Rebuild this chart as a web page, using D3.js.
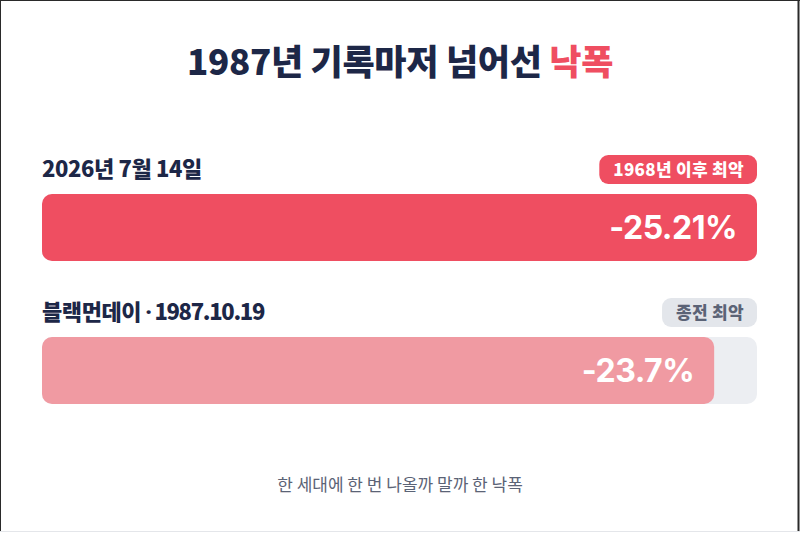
<!DOCTYPE html>
<html><head><meta charset="utf-8">
<script src="https://cdn.jsdelivr.net/npm/d3@7"></script>
<style>
html,body{margin:0;padding:0;background:#fff;}
svg{display:block;font-family:"Noto Sans CJK KR","Noto Sans",sans-serif;}
</style></head>
<body>
<svg id="c" width="800" height="533"></svg>
<script>
const titleMain = "1987년 기록마저 넘어선 ";
const titleAccent = "낙폭";
const labelsA = ["2026년 7월 14일", "블랙먼데이"];
const labelsB = ["", "1987.10.19"];
const values = [25.21, 23.7];
const valueLabels = ["-25.21%", "-23.7%"];
const badges = ["1968년 이후 최악", "종전 최악"];
const footer = "한 세대에 한 번 나올까 말까 한 낙폭";

const navy = "#1d2747", red = "#ef4e61", pink = "#f09aa2", track = "#eceef2",
      grayBadge = "#e3e6eb", grayText = "#5b6376";

const svg = d3.select("#c");
const W = 800, H = 533, L = 42, R = 757;

// frame
svg.append("rect").attr("x",0).attr("y",0).attr("width",W).attr("height",H).attr("fill","#fff");
svg.append("line").attr("x1",0).attr("x2",W).attr("y1",0.5).attr("y2",0.5).attr("stroke","#2a2a2a");
svg.append("line").attr("x1",0.5).attr("x2",0.5).attr("y1",0).attr("y2",531).attr("stroke","#2a2a2a");
svg.append("line").attr("x1",798.5).attr("x2",798.5).attr("y1",0).attr("y2",531).attr("stroke","#2a2a2a").attr("stroke-width",2);
svg.append("line").attr("x1",0).attr("x2",W).attr("y1",531.5).attr("y2",531.5).attr("stroke","#e4e6ea");

// title
const t = svg.append("text").attr("x",W/2).attr("y",75).attr("text-anchor","middle")
  .attr("font-size",35).attr("font-weight",900).attr("fill",navy).attr("letter-spacing",-0.3);
t.append("tspan").text(titleMain);
t.append("tspan").attr("fill",red).text(titleAccent);

const x = d3.scaleLinear().domain([0, d3.max(values)]).range([L, R]);
const y = d3.scaleBand().domain(d3.range(values.length)).range([194, 194+143*2]).paddingInner(0);
const barH = 67;

const g = svg.selectAll("g.row").data(values).join("g").attr("class","row")
  .attr("transform",(d,i)=>`translate(0,${y(i)})`);

g.append("rect").attr("x",L).attr("y",0).attr("width",R-L).attr("height",barH)
  .attr("rx",10).attr("fill",track);
g.append("rect").attr("x",L).attr("y",0).attr("width",d=>x(d)-L).attr("height",barH)
  .attr("rx",10).attr("fill",(d,i)=>i===0?red:pink);
g.append("text").attr("x",d=>x(d)-20).attr("y",barH/2+11).attr("text-anchor","end")
  .attr("font-size",32).attr("font-weight",700).attr("fill","#fff")
  .attr("font-family","Inter,'Noto Sans',sans-serif").attr("letter-spacing",-0.5)
  .text((d,i)=>valueLabels[i]);

g.each(function(d,i){
  const lt = d3.select(this).append("text").attr("x",L).attr("y",-17).attr("font-size",22)
    .attr("font-weight",800).attr("fill",navy).attr("letter-spacing",-0.4);
  lt.append("tspan").text(labelsA[i]);
  if (labelsB[i]) {
    lt.append("tspan").attr("font-family","'Noto Sans',sans-serif").attr("letter-spacing",-1.5).text(" · ");
    lt.append("tspan").attr("letter-spacing",-1.3).text(labelsB[i]);
  }
});

// badges
g.each(function(d,i){
  const gg = d3.select(this);
  const bg = gg.append("rect").attr("y",-39).attr("height",29).attr("rx",9)
    .attr("fill", i===0?red:grayBadge);
  const tx = gg.append("text").attr("x",R-13).attr("y",-18.5).attr("text-anchor","end")
    .attr("font-size",17).attr("font-weight",800).attr("fill", i===0?"#fff":grayText)
    .attr("letter-spacing",0.3)
    .text(badges[i]);
  const w = tx.node().getComputedTextLength();
  bg.attr("x", R-w-27).attr("width", w+27);
});

svg.append("text").attr("x",W/2).attr("y",491).attr("text-anchor","middle")
  .attr("font-size",17).attr("fill",grayText).text(footer);
</script>
</body></html>
